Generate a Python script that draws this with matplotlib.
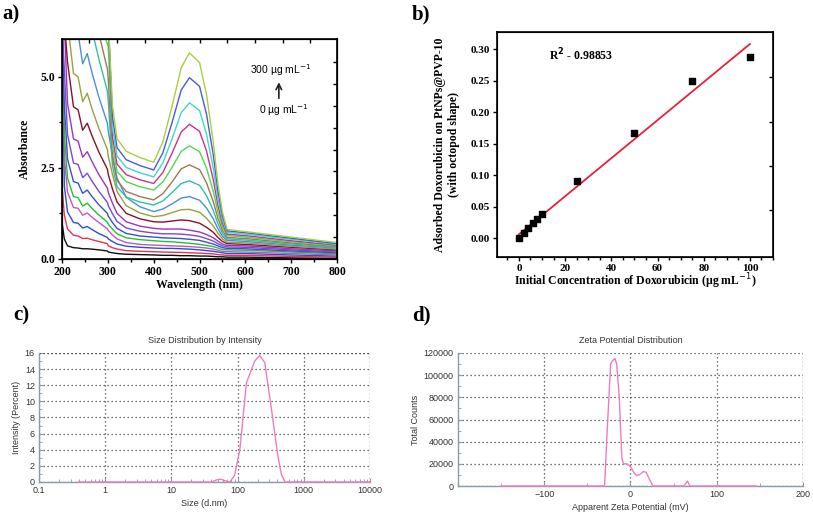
import numpy as np
import matplotlib.pyplot as plt
from matplotlib.ticker import MultipleLocator, FixedLocator, LogLocator, NullFormatter

# ---- panel a: UV-vis spectra (0 -> 300 ug/mL), off-scale values set to 6.5
wavelength = [200, 205, 212, 225, 235, 245, 255, 265, 280, 299, 301, 310, 320, 340, 370,
              400, 420, 440, 460, 478, 500, 515, 530, 540, 550, 560, 600, 700, 800]

spec_00 = [1.0, 0.55, 0.36, 0.31, 0.30, 0.28, 0.28, 0.27, 0.25, 0.22, 0.19, 0.17, 0.15, 0.13, 0.12,
           0.11, 0.10, 0.10, 0.09, 0.09, 0.08, 0.08, 0.07, 0.06, 0.06, 0.05, 0.05, 0.03, 0.02]
spec_01 = [2.0, 1.2, 0.82, 0.65, 0.63, 0.56, 0.57, 0.53, 0.48, 0.42, 0.36, 0.31, 0.27, 0.23, 0.21,
           0.20, 0.19, 0.185, 0.18, 0.17, 0.16, 0.15, 0.14, 0.12, 0.11, 0.10, 0.10, 0.07, 0.05]
spec_02 = [6.5, 2.0, 1.29, 1.0, 0.98, 0.85, 0.89, 0.81, 0.70, 0.59, 0.55, 0.48, 0.41, 0.35, 0.32,
           0.30, 0.29, 0.29, 0.28, 0.27, 0.25, 0.23, 0.21, 0.19, 0.17, 0.15, 0.15, 0.11, 0.08]
spec_03 = [6.5, 2.8, 1.83, 1.41, 1.39, 1.20, 1.26, 1.15, 1.00, 0.83, 0.78, 0.66, 0.55, 0.45, 0.40,
           0.38, 0.37, 0.36, 0.35, 0.34, 0.32, 0.30, 0.27, 0.24, 0.21, 0.20, 0.19, 0.15, 0.11]
spec_04 = [6.5, 3.4, 2.22, 1.71, 1.68, 1.45, 1.53, 1.39, 1.21, 1.01, 0.95, 0.82, 0.69, 0.58, 0.53,
           0.50, 0.48, 0.47, 0.45, 0.43, 0.40, 0.37, 0.34, 0.30, 0.26, 0.25, 0.24, 0.19, 0.14]
spec_05 = [6.5, 4.2, 2.74, 2.12, 2.08, 1.80, 1.89, 1.72, 1.49, 1.25, 1.17, 1.00, 0.84, 0.70, 0.63,
           0.60, 0.58, 0.57, 0.56, 0.54, 0.51, 0.46, 0.41, 0.36, 0.31, 0.29, 0.28, 0.22, 0.17]
spec_06 = [6.5, 5.2, 3.41, 2.63, 2.59, 2.23, 2.35, 2.14, 1.86, 1.55, 1.46, 1.24, 1.03, 0.85, 0.76,
           0.71, 0.69, 0.69, 0.68, 0.66, 0.62, 0.56, 0.49, 0.42, 0.36, 0.33, 0.32, 0.25, 0.19]
spec_07 = [6.5, 6.5, 4.26, 3.29, 3.23, 2.79, 2.94, 2.68, 2.32, 1.94, 1.82, 1.53, 1.25, 1.02, 0.90,
           0.84, 0.82, 0.82, 0.82, 0.79, 0.74, 0.67, 0.58, 0.49, 0.41, 0.37, 0.36, 0.28, 0.22]
spec_08 = [6.5, 6.5, 5.39, 4.17, 4.09, 3.53, 3.72, 3.39, 2.94, 2.46, 2.31, 1.92, 1.56, 1.25, 1.10,
           1.02, 1.01, 1.04, 1.07, 1.05, 0.98, 0.87, 0.73, 0.59, 0.48, 0.42, 0.40, 0.32, 0.25]
spec_09 = [6.5, 6.5, 6.5, 5.08, 4.99, 4.31, 4.54, 4.13, 3.59, 3.00, 2.81, 2.32, 1.85, 1.46, 1.26,
           1.16, 1.19, 1.27, 1.35, 1.36, 1.28, 1.12, 0.90, 0.71, 0.55, 0.46, 0.44, 0.35, 0.27]
spec_10 = [6.5, 6.5, 6.5, 6.3, 6.19, 5.35, 5.63, 5.12, 4.45, 3.72, 3.49, 2.83, 2.22, 1.69, 1.43,
           1.30, 1.37, 1.51, 1.67, 1.71, 1.61, 1.40, 1.10, 0.83, 0.62, 0.51, 0.48, 0.38, 0.30]
spec_11 = [6.5, 6.5, 6.5, 6.5, 6.5, 6.5, 6.5, 6.3, 5.5, 4.6, 4.3, 2.55, 1.98, 1.70, 1.56,
           1.48, 1.59, 1.82, 2.07, 2.14, 2.02, 1.74, 1.33, 0.97, 0.70, 0.55, 0.52, 0.41, 0.32]
spec_12 = [6.5, 6.5, 6.5, 6.5, 6.5, 6.5, 6.5, 6.5, 6.2, 5.2, 4.9, 2.8, 2.15, 1.85, 1.71,
           1.62, 1.79, 2.11, 2.47, 2.58, 2.45, 2.09, 1.57, 1.12, 0.78, 0.59, 0.56, 0.44, 0.34]
spec_13 = [6.5, 6.5, 6.5, 6.5, 6.5, 6.5, 6.5, 6.5, 6.5, 5.9, 5.8, 3.1, 2.4, 2.12, 1.98,
           1.89, 2.11, 2.51, 2.95, 3.10, 2.94, 2.50, 1.85, 1.29, 0.88, 0.64, 0.60, 0.47, 0.36]
spec_14 = [6.5, 6.5, 6.5, 6.5, 6.5, 6.5, 6.5, 6.5, 6.5, 6.5, 6.5, 3.35, 2.6, 2.31, 2.17,
           2.07, 2.37, 2.90, 3.48, 3.69, 3.50, 2.97, 2.17, 1.47, 0.97, 0.68, 0.64, 0.50, 0.38]
spec_15 = [6.5, 6.5, 6.5, 6.5, 6.5, 6.5, 6.5, 6.5, 6.5, 6.5, 6.5, 3.6, 2.82, 2.51, 2.36,
           2.25, 2.63, 3.29, 4.01, 4.28, 4.07, 3.43, 2.48, 1.66, 1.07, 0.73, 0.68, 0.54, 0.40]
spec_16 = [6.5, 6.5, 6.5, 6.5, 6.5, 6.5, 6.5, 6.5, 6.5, 6.5, 6.5, 3.9, 3.05, 2.72, 2.56,
           2.44, 2.91, 3.74, 4.63, 4.97, 4.73, 3.98, 2.85, 1.87, 1.18, 0.77, 0.72, 0.57, 0.42]
spec_17 = [6.5, 6.5, 6.5, 6.5, 6.5, 6.5, 6.5, 6.5, 6.5, 6.5, 6.5, 4.2, 3.3, 2.95, 2.78,
           2.65, 3.21, 4.19, 5.24, 5.65, 5.38, 4.52, 3.20, 2.07, 1.28, 0.81, 0.75, 0.60, 0.45]

spec_colors = ['#111111', '#e8344e', '#2a4fcf', '#c455c8', '#22c42a', '#3552c8',
               '#7b48d8', '#9a35c0', '#8b1028', '#9aa040', '#4a90d8', '#30c0a8',
               '#a07850', '#50d850', '#d0308a', '#40d8c8', '#4a5cd0', '#a8d040']

# ---- panel b: adsorption vs initial concentration
conc = [0, 2, 4, 6, 8, 10, 25, 50, 75, 100]
adsorbed = [0.0, 0.008, 0.016, 0.024, 0.031, 0.038, 0.091, 0.167, 0.250, 0.287]
fit_x = [0, 100]
fit_y = [0.006, 0.308]

# ---- panel c: DLS size distribution
size_nm = [0.4, 40, 50, 55, 65, 76, 90, 108, 136, 181, 216, 257, 325, 408, 460, 520, 10000]
intensity = [0, 0, 0.3, 0.35, 0.15, 0, 0.8, 4.0, 12.3, 15.0, 15.7, 14.8, 9.0, 3.1, 0.9, 0, 0]

# ---- panel d: zeta potential
zeta_mv = [-150, -30, -27, -23, -21, -18, -16, -13, -10, -8, -4, 0, 4, 7, 10, 15, 18, 22, 26,
           62, 66, 69, 146]
zeta_counts = [0, 0, 50000, 110000, 113000, 115000, 110000, 80000, 25000, 20000, 20000, 17500,
               12000, 9500, 10000, 13000, 12500, 6000, 0, 0, 4500, 0, 0]

spectra = [spec_00, spec_01, spec_02, spec_03, spec_04, spec_05, spec_06, spec_07, spec_08,
           spec_09, spec_10, spec_11, spec_12, spec_13, spec_14, spec_15, spec_16, spec_17]

serif = 'Liberation Serif'
sans = 'Liberation Sans'

fig = plt.figure(figsize=(8.13, 5.16), dpi=100)

# ================= a =================
ax = fig.add_axes([0.0763, 0.4981, 0.3383, 0.4264])
for s, c in zip(spectra, spec_colors):
    ax.plot(wavelength, s, color=c, lw=1.0)
ax.set_xlim(200, 800)
ax.set_ylim(0, 6.03)
ax.set_xticks([200, 300, 400, 500, 600, 700, 800])
ax.xaxis.set_minor_locator(MultipleLocator(50))
ax.set_yticks([0.0, 2.5, 5.0])
ax.set_yticklabels(['0.0', '2.5', '5.0'])
ax.yaxis.set_minor_locator(MultipleLocator(1.25))
ax.tick_params(direction='out', length=3, width=1, labelsize=8.5, pad=2)
ax.tick_params(which='minor', direction='out', length=2, width=1)
for lab in ax.get_xticklabels() + ax.get_yticklabels():
    lab.set_fontfamily(serif)
    lab.set_fontweight('bold')
for sp in ax.spines.values():
    sp.set_linewidth(1.2)
ax.set_xlabel('Wavelength (nm)', fontfamily=serif, fontweight='bold', fontsize=8.5, labelpad=1)
ax.set_ylabel('Absorbance', fontfamily=serif, fontweight='bold', fontsize=8.5, labelpad=7)
axr = ax.twinx()
axr.set_ylim(0, 6.03)
axr.set_yticks([0.6, 1.2, 1.8, 2.4, 3.0, 3.6, 4.2, 4.8, 5.4])
axr.tick_params(direction='in', length=3, width=1, labelright=False)
axt = ax.twiny()
axt.set_xlim(200, 800)
axt.set_xticks([258, 319, 380, 439, 500, 559, 620, 681, 742])
axt.tick_params(direction='in', length=3, width=1, labeltop=False)
ax.text(678, 5.18, '300 µg mL$^{-1}$', fontfamily=sans, fontsize=7.5, ha='center', va='center')
ax.text(684, 4.08, '0 µg mL$^{-1}$', fontfamily=sans, fontsize=7.5, ha='center', va='center')
ax.annotate('', xy=(673, 4.92), xytext=(673, 4.33),
            arrowprops=dict(arrowstyle='->', lw=1.2, color='#222222'))

# ================= b =================
bx = fig.add_axes([0.6113, 0.5019, 0.3395, 0.4360])
bx.plot(fit_x, fit_y, color='#e8203a', lw=1.3, zorder=2)
bx.scatter(conc, adsorbed, marker='s', s=16, color='black', zorder=3)
bx.set_xlim(-9.5, 110)
bx.set_ylim(-0.03, 0.327)
bx.set_xticks([0, 20, 40, 60, 80, 100])
bx.xaxis.set_minor_locator(MultipleLocator(5))
bx.set_yticks([0.0, 0.05, 0.10, 0.15, 0.20, 0.25, 0.30])
bx.set_yticklabels(['0.00', '0.05', '0.10', '0.15', '0.20', '0.25', '0.30'])
bx.tick_params(direction='out', length=3, width=1, labelsize=8, pad=2)
bx.tick_params(which='minor', direction='out', length=2, width=1)
for lab in bx.get_xticklabels() + bx.get_yticklabels():
    lab.set_fontfamily(serif)
    lab.set_fontweight('bold')
for sp in bx.spines.values():
    sp.set_linewidth(1.2)
bx.set_xlabel('Initial Concentration of Doxorubicin (µg mL$^{-1}$)', fontfamily=serif,
              fontweight='bold', fontsize=8.5, labelpad=-1)
bx.set_ylabel('Adsorbed Doxorubicin on PtNPs@PVP-10\n(with octopod shape)', fontfamily=serif,
              fontweight='bold', fontsize=8.5, labelpad=8)
bxr = bx.twinx()
bxr.set_ylim(-0.03, 0.327)
bxr.set_yticks([0.044, 0.115, 0.185, 0.255])
bxr.tick_params(direction='in', length=3, width=1, labelright=False)
bx.text(13, 0.29, 'R$^\\mathbf{2}$ - 0.98853', fontfamily=serif, fontweight='bold', fontsize=8.5,
        va='center')

# ================= c / d common style =================
grid_kw = dict(color='#444444', lw=0.9, ls=(0, (1, 2.2)))
spine_col = '#8c9aa3'
txt_col = '#333333'


def dls_style(a):
    for k in ['top', 'right']:
        a.spines[k].set_visible(False)
    for k in ['left', 'bottom']:
        a.spines[k].set_color(spine_col)
        a.spines[k].set_linewidth(1.0)
    a.grid(True, which='major', **grid_kw)
    a.tick_params(which='both', direction='in', colors=spine_col, labelcolor=txt_col,
                  labelsize=6.5, pad=3)
    a.tick_params(which='major', length=3)
    a.tick_params(which='minor', length=2)
    for lab in a.get_xticklabels() + a.get_yticklabels():
        lab.set_fontfamily(sans)


# ================= c =================
cx = fig.add_axes([0.048, 0.0659, 0.4071, 0.2500])
cx.plot(size_nm, intensity, color='#f07cbe', lw=1.0, zorder=3, clip_on=False)
cx.set_xscale('log')
cx.set_xlim(0.1, 10000)
cx.set_ylim(0, 16)
cx.set_xticks([0.1, 1, 10, 100, 1000, 10000])
cx.set_xticklabels(['0.1', '1', '10', '100', '1000', '10000'])
cx.xaxis.set_minor_locator(LogLocator(base=10, subs=np.arange(2, 10)))
cx.xaxis.set_minor_formatter(NullFormatter())
cx.set_yticks([0, 2, 4, 6, 8, 10, 12, 14, 16])
cx.yaxis.set_minor_locator(MultipleLocator(1))
dls_style(cx)
cx.axhline(16, **grid_kw)
cx.axvline(10000, **grid_kw)
cx.set_title('Size Distribution by Intensity', fontfamily=sans, fontsize=6.5, color=txt_col, pad=7)
cx.set_xlabel('Size (d.nm)', fontfamily=sans, fontsize=6.5, color=txt_col, labelpad=3)
cx.set_ylabel('Intensity (Percent)', fontfamily=sans, fontsize=6.5, color=txt_col, labelpad=3)

# ================= d =================
dx = fig.add_axes([0.5633, 0.0581, 0.4244, 0.2578])
dx.plot(zeta_mv, zeta_counts, color='#f07cbe', lw=1.0, zorder=3, clip_on=False)
dx.set_xlim(-200, 200)
dx.set_ylim(0, 120000)
dx.set_xticks([-100, 0, 100, 200])
dx.xaxis.set_minor_locator(FixedLocator([-150, -50, 50, 150]))
dx.set_yticks([0, 20000, 40000, 60000, 80000, 100000, 120000])
dx.yaxis.set_minor_locator(MultipleLocator(10000))
dls_style(dx)
dx.axvline(200, **grid_kw)
dx.set_title('Zeta Potential Distribution', fontfamily=sans, fontsize=6.5, color=txt_col, pad=7)
dx.set_xlabel('Apparent Zeta Potential (mV)', fontfamily=sans, fontsize=6.5, color=txt_col,
              labelpad=3)
dx.set_ylabel('Total Counts', fontfamily=sans, fontsize=6.5, color=txt_col, labelpad=3)

# panel letters
for lbl, x, y in [('a)', 0.003, 0.972), ('b)', 0.506, 0.972), ('c)', 0.016, 0.388),
                  ('d)', 0.507, 0.388)]:
    fig.text(x, y, lbl, fontfamily=serif, fontweight='bold', fontsize=15, va='center')

fig.savefig('out.png', dpi=100)
